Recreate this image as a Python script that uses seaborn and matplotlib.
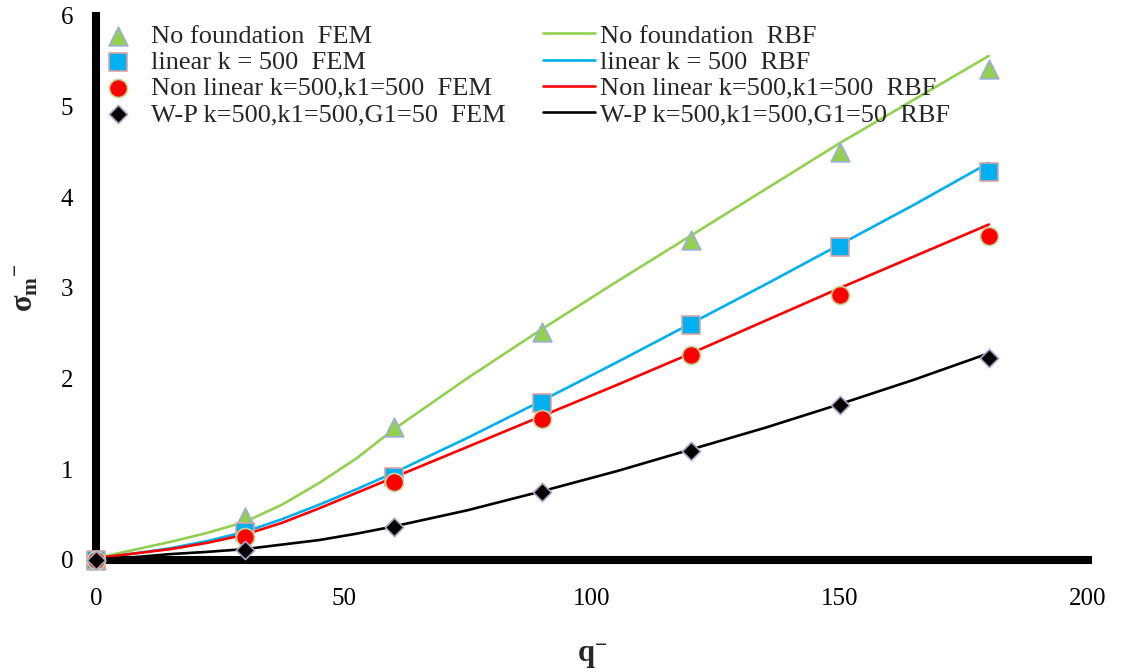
import matplotlib
matplotlib.use("Agg")
import matplotlib.pyplot as plt
import seaborn as sns
import pandas as pd

# ---------------- data ----------------
q_fem = [0, 30, 60, 90, 120, 150, 180]
fem_nofound = [0.0, 0.47, 1.47, 2.52, 3.53, 4.50, 5.41]
fem_linear = [0.0, 0.31, 0.92, 1.73, 2.59, 3.45, 4.28]
fem_nonlinear = [0.0, 0.25, 0.86, 1.55, 2.26, 2.92, 3.57]
fem_wp = [0.0, 0.11, 0.36, 0.75, 1.20, 1.71, 2.23]

q_rbf = [0, 7.5, 15, 22.5, 30, 37.5, 45, 52.5, 60, 75, 90, 105, 120, 135, 150, 165, 180]
rbf_nofound = [0.02, 0.11, 0.20, 0.30, 0.42, 0.61, 0.85, 1.12, 1.44, 2.01, 2.55,
               3.07, 3.58, 4.09, 4.60, 5.08, 5.56]
rbf_linear = [0.02, 0.07, 0.13, 0.21, 0.31, 0.45, 0.61, 0.78, 0.96, 1.35, 1.76,
              2.18, 2.61, 3.04, 3.48, 3.92, 4.38]
rbf_nonlinear = [0.02, 0.07, 0.12, 0.19, 0.28, 0.41, 0.57, 0.74, 0.91, 1.25, 1.59,
                 1.93, 2.28, 2.64, 3.00, 3.35, 3.70]
rbf_wp = [0.01, 0.03, 0.065, 0.09, 0.12, 0.17, 0.22, 0.29, 0.37, 0.55, 0.76,
          0.98, 1.22, 1.46, 1.72, 1.99, 2.28]

names = ["No foundation", "linear k = 500", "Non linear k=500,k1=500",
         "W-P k=500,k1=500,G1=50"]
x_ticks = [0, 50, 100, 150, 200]
y_ticks = [0, 1, 2, 3, 4, 5, 6]

# ---------------- style ----------------
sns.set_style("white")
plt.rcParams["font.family"] = ["Liberation Serif", "DejaVu Serif"]
plt.rcParams["mathtext.fontset"] = "custom"
plt.rcParams["mathtext.rm"] = "Liberation Serif"
plt.rcParams["mathtext.it"] = "Liberation Serif:italic"
plt.rcParams["mathtext.bf"] = "Liberation Serif:bold"

line_colors = ["#92D050", "#00B0F0", "#FF0000", "#000000"]
face_colors = ["#92D050", "#00B0F0", "#FF0000", "#000000"]
edge_colors = ["#9DAFD8", "#D9A3A3", "#C3D69B", "#B3A2C7"]
markers = ["^", "s", "o", "D"]
msizes = [13.5, 13.0, 13.0, 9.3]

fig = plt.figure(figsize=(11.25, 6.72), dpi=100)
ax = fig.add_axes([96 / 1125, 1 - 560 / 672, 992 / 1125, 544 / 672])

fem_sets = [fem_nofound, fem_linear, fem_nonlinear, fem_wp]
rbf_sets = [rbf_nofound, rbf_linear, rbf_nonlinear, rbf_wp]

for i, ys in enumerate(rbf_sets):
    df = pd.DataFrame({"q": q_rbf, "s": ys})
    sns.lineplot(data=df, x="q", y="s", ax=ax, color=line_colors[i],
                 linewidth=1.9, label=names[i] + "  RBF", zorder=2,
                 estimator=None, sort=False)
for i, ys in enumerate(fem_sets):
    df = pd.DataFrame({"q": q_fem, "s": ys})
    sns.scatterplot(data=df, x="q", y="s", ax=ax, marker=markers[i],
                    s=msizes[i] ** 2, color=face_colors[i],
                    edgecolor=edge_colors[i], linewidth=1.2,
                    label=names[i] + "  FEM", zorder=3 + i, clip_on=False)

handles, labels = ax.get_legend_handles_labels()
h_map = dict(zip(labels, handles))
if ax.get_legend() is not None:
    ax.get_legend().remove()

fem_labels = [n + "  FEM" for n in names]
rbf_labels = [n + "  RBF" for n in names]

leg1 = ax.legend([h_map[l] for l in fem_labels], fem_labels,
                 loc="upper left", bbox_to_anchor=(0.0, 0.985),
                 frameon=False, fontsize=19, borderpad=0, borderaxespad=0,
                 handlelength=1.7, handletextpad=0.4, labelspacing=0.1)
ax.add_artist(leg1)
leg2 = ax.legend([h_map[l] for l in rbf_labels], rbf_labels,
                 loc="upper left", bbox_to_anchor=((543 - 96) / 992, 0.985),
                 frameon=False, fontsize=19, borderpad=0, borderaxespad=0,
                 handlelength=1.97, handletextpad=0.2, labelspacing=0.1)

# ---------------- axes ----------------
ax.set_xlim(0, 200)
ax.set_ylim(0, 6)
ax.set_xticks(x_ticks)
ax.set_yticks(y_ticks)
ax.set_xticklabels([str(v) for v in x_ticks])
ax.set_yticklabels([str(v) for v in y_ticks])
for side in ["top", "right"]:
    ax.spines[side].set_visible(False)
for side in ["left", "bottom"]:
    ax.spines[side].set_linewidth(5.8)
    ax.spines[side].set_color("black")
    ax.spines[side].set_zorder(1)
ax.tick_params(axis="both", which="major", direction="out", length=5.5,
               width=4.3, color="black", labelsize=18, labelcolor="black")
ax.tick_params(axis="x", pad=15)
ax.tick_params(axis="y", pad=11)
ax.grid(False)

ax.set_xlabel(r"q$^{\mathbf{-}}$", fontsize=22, fontweight="bold", va="baseline")
ax.xaxis.set_label_coords(0.5, (560 - 662) / 544)
ax.set_ylabel(r"σ$_{\mathbf{m}}{}^{\mathbf{-}}$", fontsize=22,
              fontweight="bold", va="baseline")
ax.yaxis.set_label_coords((34 - 96) / 992, 0.5)

fig.savefig("out.png", dpi=100)
